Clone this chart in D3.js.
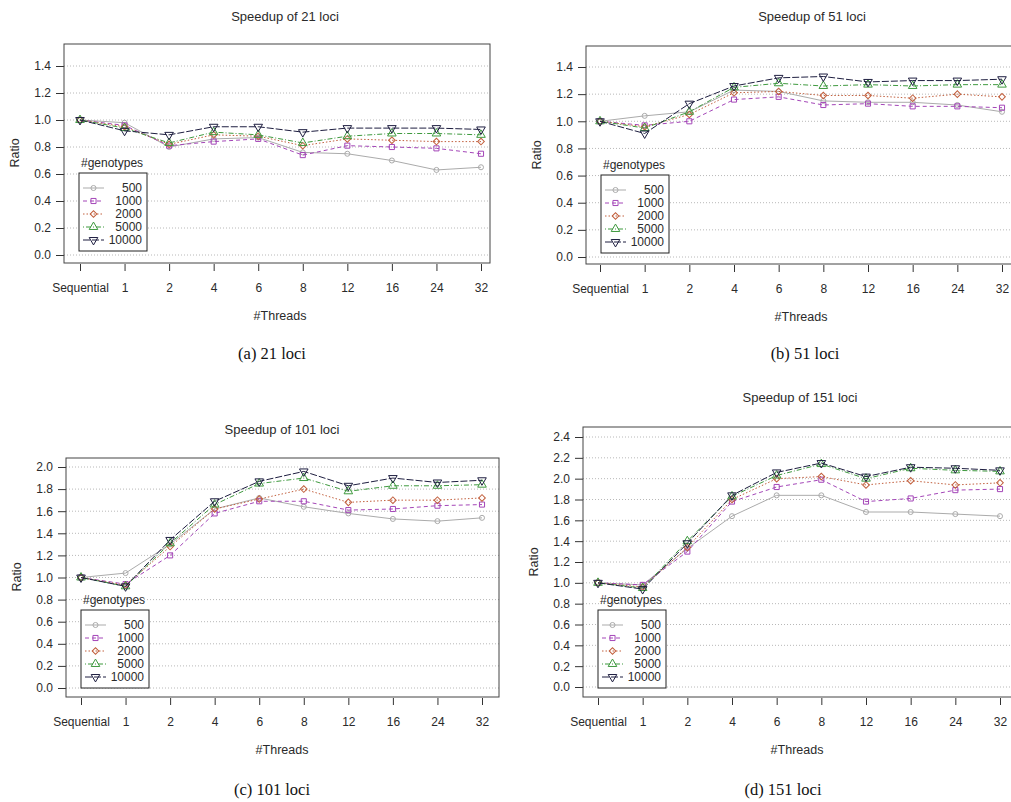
<!DOCTYPE html>
<html>
<head>
<meta charset="utf-8">
<script src="https://cdn.jsdelivr.net/npm/d3@7"></script>
<style>
  body { margin: 0; background: #fff; }
  text { font-family: "Liberation Sans", Arial, sans-serif; fill: #2a2a2a; }
  .caption { font-family: "Liberation Serif", "DejaVu Serif", serif; font-size: 16.5px; fill: #111; }
</style>
</head>
<body>
<svg id="chart" width="1011" height="802"></svg>
<script>
var threads = ["Sequential", "1", "2", "4", "6", "8", "12", "16", "24", "32"];
var genotypes = ["500", "1000", "2000", "5000", "10000"];

// one row per genotype count, one value per thread setting
var ratio21 = [
    [1.00, 0.98, 0.80, 0.86, 0.87, 0.76, 0.75, 0.70, 0.63, 0.65],
    [1.00, 0.96, 0.81, 0.84, 0.86, 0.74, 0.81, 0.80, 0.79, 0.75],
    [1.00, 0.95, 0.82, 0.89, 0.88, 0.81, 0.86, 0.85, 0.84, 0.84],
    [1.00, 0.94, 0.83, 0.91, 0.89, 0.83, 0.88, 0.90, 0.90, 0.89],
    [1.00, 0.92, 0.89, 0.95, 0.95, 0.91, 0.94, 0.94, 0.94, 0.93]
];
var ratio51 = [
    [1.00, 1.04, 1.07, 1.23, 1.22, 1.15, 1.14, 1.14, 1.12, 1.07],
    [1.00, 0.97, 1.00, 1.16, 1.18, 1.12, 1.13, 1.11, 1.11, 1.10],
    [1.00, 0.96, 1.05, 1.21, 1.22, 1.19, 1.19, 1.17, 1.20, 1.18],
    [1.00, 0.95, 1.07, 1.25, 1.28, 1.26, 1.27, 1.26, 1.27, 1.27],
    [1.00, 0.91, 1.13, 1.26, 1.32, 1.33, 1.29, 1.30, 1.30, 1.31]
];
var ratio101 = [
    [1.00, 1.04, 1.30, 1.62, 1.72, 1.64, 1.58, 1.53, 1.51, 1.54],
    [1.00, 0.94, 1.20, 1.58, 1.69, 1.69, 1.61, 1.62, 1.65, 1.66],
    [1.00, 0.93, 1.28, 1.62, 1.71, 1.80, 1.68, 1.70, 1.70, 1.72],
    [1.00, 0.92, 1.31, 1.66, 1.85, 1.90, 1.78, 1.83, 1.83, 1.84],
    [1.00, 0.92, 1.34, 1.69, 1.87, 1.96, 1.83, 1.90, 1.86, 1.88]
];
var ratio151 = [
    [1.00, 0.98, 1.33, 1.64, 1.84, 1.84, 1.68, 1.68, 1.66, 1.64],
    [1.00, 0.98, 1.30, 1.78, 1.92, 1.99, 1.78, 1.81, 1.89, 1.90],
    [1.00, 0.96, 1.34, 1.80, 2.00, 2.02, 1.94, 1.98, 1.94, 1.96],
    [1.00, 0.95, 1.40, 1.83, 2.03, 2.14, 2.00, 2.10, 2.08, 2.07],
    [1.00, 0.94, 1.38, 1.84, 2.06, 2.15, 2.02, 2.11, 2.10, 2.08]
];

var colors = ["#ababab", "#a446b8", "#c2603e", "#3f9a3f", "#1e1e40"];
var dashes = ["none", "4,3", "1.5,2", "1,2,5,2", "7,2"];
var symbols = [d3.symbolCircle, d3.symbolSquare, d3.symbolSquare, d3.symbolTriangle, d3.symbolTriangle];
var symSize = [20, 26, 22, 32, 32];
var symRot = [0, 0, 45, 0, 180];

var panels = [
    { title: "Speedup of 21 loci", caption: "(a) 21 loci", data: ratio21, yMax: 1.4,
      l: 64, r: 490, t: 44, b: 263, x0: 80, x1: 481, y0: 255, y1: 66,
      leg: [79, 173], tx: 285, ty: 17, cx: 272, cy: 354, rx: 15, ry: 153, hx: 280, hy: 316 },
    { title: "Speedup of 51 loci", caption: "(b) 51 loci", data: ratio51, yMax: 1.4,
      l: 586, r: 1016, t: 46, b: 264, x0: 600, x1: 1002, y0: 257, y1: 67,
      leg: [601, 175], tx: 812, ty: 17, cx: 805, cy: 354, rx: 537, ry: 155, hx: 801, hy: 317 },
    { title: "Speedup of 101 loci", caption: "(c) 101 loci", data: ratio101, yMax: 2.0,
      l: 66, r: 499, t: 458, b: 697, x0: 81, x1: 482, y0: 688, y1: 467,
      leg: [81, 610], tx: 282, ty: 430, cx: 272, cy: 790, rx: 17, ry: 577, hx: 282, hy: 750 },
    { title: "Speedup of 151 loci", caption: "(d) 151 loci", data: ratio151, yMax: 2.4,
      l: 583, r: 1016, t: 427, b: 697, x0: 598, x1: 1000, y0: 687, y1: 437,
      leg: [598, 610], tx: 800, ty: 398, cx: 783, cy: 790, rx: 534, ry: 562, hx: 797, hy: 750 }
];

var svg = d3.select("#chart");

function marker(sel, i) {
    sel.attr("d", d3.symbol().type(symbols[i]).size(symSize[i])())
        .attr("fill", "none")
        .attr("stroke", colors[i])
        .attr("stroke-width", 1)
        .attr("transform", function (d) { return d.tr + (symRot[i] ? " rotate(" + symRot[i] + ")" : ""); });
}

panels.forEach(function (p) {
    var g = svg.append("g");

    var x = d3.scalePoint().domain(threads).range([p.x0, p.x1]);
    var y = d3.scaleLinear().domain([0, p.yMax]).range([p.y0, p.y1]);
    var yTicks = d3.range(0, p.yMax + 0.001, 0.2);

    // dotted grid
    g.selectAll(".grid").data(yTicks).enter().append("line")
        .attr("x1", p.l).attr("x2", p.r)
        .attr("y1", d => y(d)).attr("y2", d => y(d))
        .attr("stroke", "#b8b8b8").attr("stroke-dasharray", "1,2");

    // y axis
    var yAxis = d3.axisLeft(y).tickValues(yTicks).tickFormat(d3.format(".1f")).tickSize(8).tickPadding(5);
    var ya = g.append("g").attr("transform", "translate(" + p.l + ",0)").call(yAxis);
    ya.select(".domain").remove();
    ya.selectAll("line").attr("stroke", "#333");
    ya.selectAll("text").attr("font-size", 12).attr("fill", "#2a2a2a");

    // x axis
    var xAxis = d3.axisBottom(x).tickSize(7).tickPadding(12);
    var xa = g.append("g").attr("transform", "translate(0," + (p.b + 1) + ")").call(xAxis);
    xa.select(".domain").remove();
    xa.selectAll("line").attr("stroke", "#333");
    xa.selectAll("text").attr("font-size", 12).attr("fill", "#2a2a2a");

    // frame
    g.append("rect")
        .attr("x", p.l).attr("y", p.t)
        .attr("width", p.r - p.l).attr("height", p.b - p.t)
        .attr("fill", "none").attr("stroke", "#444").attr("stroke-width", 1);

    // series
    var line = d3.line().x((d, j) => x(threads[j])).y(d => y(d));
    p.data.forEach(function (vals, i) {
        g.append("path").datum(vals)
            .attr("d", line)
            .attr("fill", "none")
            .attr("stroke", colors[i])
            .attr("stroke-width", 1)
            .attr("stroke-dasharray", dashes[i]);
        g.selectAll(".pt" + i)
            .data(vals.map((v, j) => ({ tr: "translate(" + x(threads[j]) + "," + y(v) + ")" })))
            .enter().append("path")
            .call(marker, i);
    });

    // legend
    var lx = p.leg[0], ly = p.leg[1];
    g.append("text").attr("x", lx + 2).attr("y", ly - 6)
        .attr("font-size", 12).text("#genotypes");
    g.append("rect").attr("x", lx).attr("y", ly).attr("width", 68).attr("height", 78)
        .attr("fill", "#fff").attr("stroke", "#222").attr("stroke-width", 1);
    genotypes.forEach(function (name, i) {
        var yy = ly + 15 + i * 13;
        g.append("line").attr("x1", lx + 4).attr("x2", lx + 25)
            .attr("y1", yy).attr("y2", yy)
            .attr("stroke", colors[i]).attr("stroke-dasharray", dashes[i]);
        g.append("path").datum({ tr: "translate(" + (lx + 14.5) + "," + yy + ")" }).call(marker, i);
        g.append("text").attr("x", lx + 63).attr("y", yy + 4)
            .attr("text-anchor", "end").attr("font-size", 12).text(name);
    });

    // labels
    g.append("text").attr("x", p.tx).attr("y", p.ty + 4).attr("text-anchor", "middle")
        .attr("font-size", 13).text(p.title);
    g.append("text").attr("x", p.hx).attr("y", p.hy + 4).attr("text-anchor", "middle")
        .attr("font-size", 12.5).text("#Threads");
    g.append("text").attr("transform", "translate(" + (p.rx + 4) + "," + p.ry + ") rotate(-90)")
        .attr("text-anchor", "middle").attr("font-size", 12.5).text("Ratio");
    g.append("text").attr("class", "caption").attr("x", p.cx).attr("y", p.cy + 5)
        .attr("text-anchor", "middle").text(p.caption);
});
</script>
</body>
</html>
